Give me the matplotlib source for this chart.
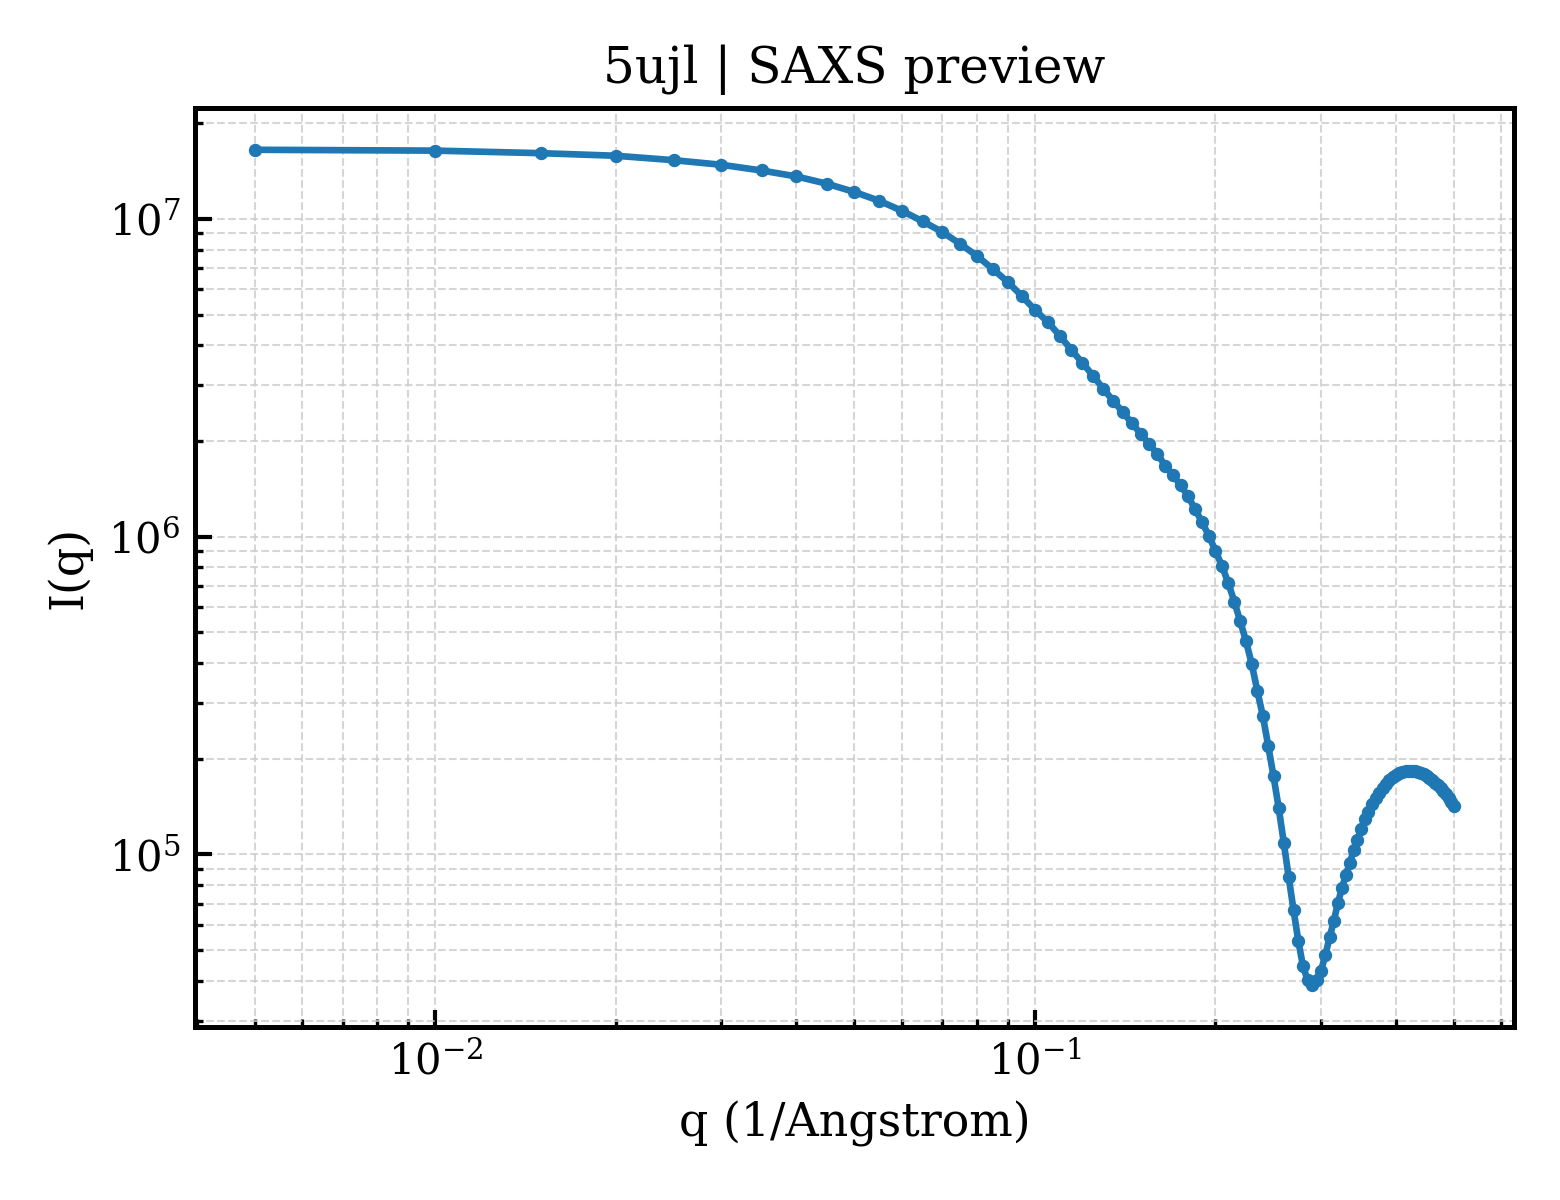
import numpy as np
import matplotlib
matplotlib.use("Agg")
import matplotlib.pyplot as plt

plt.rcParams['font.family'] = ['DejaVu Serif']
plt.rcParams['mathtext.fontset'] = 'dejavuserif'

# scattering vector, 1/Angstrom
q = [0.005, 0.010, 0.015, 0.020, 0.025, 0.030, 0.035, 0.040, 0.045, 0.050,
     0.055, 0.060, 0.065, 0.070, 0.075, 0.080, 0.085, 0.090, 0.095, 0.100,
     0.105, 0.110, 0.115, 0.120, 0.125, 0.130, 0.135, 0.140, 0.145, 0.150,
     0.155, 0.160, 0.165, 0.170, 0.175, 0.180, 0.185, 0.190, 0.195, 0.200,
     0.205, 0.210, 0.215, 0.220, 0.225, 0.230, 0.235, 0.240, 0.245, 0.250,
     0.255, 0.260, 0.265, 0.270, 0.275, 0.280, 0.285, 0.290, 0.295, 0.300,
     0.305, 0.310, 0.315, 0.320, 0.325, 0.330, 0.335, 0.340, 0.345, 0.350,
     0.355, 0.360, 0.365, 0.370, 0.375, 0.380, 0.385, 0.390, 0.395, 0.400,
     0.405, 0.410, 0.415, 0.420, 0.425, 0.430, 0.435, 0.440, 0.445, 0.450,
     0.455, 0.460, 0.465, 0.470, 0.475, 0.480, 0.485, 0.490, 0.495, 0.500]

# intensity
intensity = [1.65e7, 1.64e7, 1.61e7, 1.58e7, 1.53e7, 1.48e7, 1.42e7, 1.36e7, 1.29e7, 1.215e7,
             1.14e7, 1.06e7, 9.82e6, 9.1e6, 8.35e6, 7.65e6, 6.96e6, 6.34e6, 5.73e6, 5.17e6,
             4.74e6, 4.29e6, 3.87e6, 3.52e6, 3.21e6, 2.92e6, 2.68e6, 2.47e6, 2.28e6, 2.11e6,
             1.96e6, 1.82e6, 1.67e6, 1.56e6, 1.45e6, 1.34e6, 1.22e6, 1.11e6, 1.007e6, 9.03e5,
             8.1e5, 7.17e5, 6.25e5, 5.41e5, 4.68e5, 3.96e5, 3.26e5, 2.72e5, 2.19e5, 1.76e5,
             1.40e5, 1.09e5, 8.47e4, 6.67e4, 5.33e4, 4.44e4, 4.02e4, 3.87e4, 4.02e4, 4.31e4,
             4.81e4, 5.48e4, 6.15e4, 7.01e4, 7.82e4, 8.6e4, 9.37e4, 1.03e5, 1.11e5, 1.20e5,
             1.29e5, 1.356e5, 1.436e5, 1.50e5, 1.555e5, 1.613e5, 1.66e5, 1.709e5, 1.746e5, 1.772e5,
             1.798e5, 1.811e5, 1.824e5, 1.824e5, 1.824e5, 1.824e5, 1.811e5, 1.798e5, 1.785e5, 1.759e5,
             1.734e5, 1.709e5, 1.672e5, 1.648e5, 1.613e5, 1.578e5, 1.544e5, 1.50e5, 1.457e5, 1.416e5]

fig, ax = plt.subplots(figsize=(5.2, 4), dpi=300)
fig.subplots_adjust(left=0.125, right=0.9705, top=0.91, bottom=0.144)

ax.plot(q, intensity, color="#1f77b4", linewidth=1.6, marker="o", markersize=2.2)
ax.set_xscale("log")
ax.set_yscale("log")

ax.set_title("5ujl | SAXS preview", fontsize=12)
ax.set_xlabel("q (1/Angstrom)", fontsize=11)
ax.set_ylabel("I(q)", fontsize=11)

ax.grid(True, which="both", linestyle="--", linewidth=0.5, color="#cccccc", alpha=0.8)
ax.tick_params(which="both", direction="in", labelsize=10)
ax.tick_params(which="major", length=4, width=1)
ax.tick_params(which="minor", length=2, width=0.8)
for s in ax.spines.values():
    s.set_linewidth(1.2)

fig.savefig("out.png", dpi=300)
